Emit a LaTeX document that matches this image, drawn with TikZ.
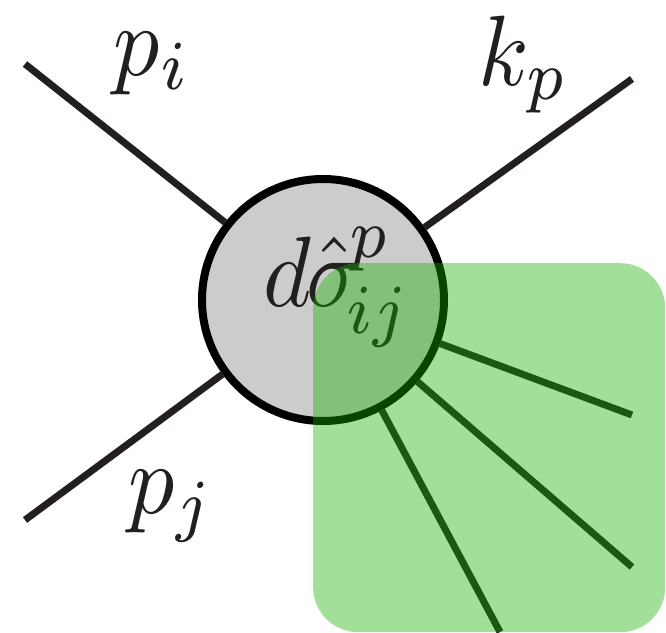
\documentclass[tikz,border=0pt]{standalone}
\usepackage{amsmath}
\usetikzlibrary{positioning}
\definecolor{legcol}{RGB}{35,31,32}
\definecolor{radgreen}{RGB}{22,175,0}
\tikzset{
    blob/.style = {circle, draw=black, fill=black!20, line width=8pt, minimum size=242pt, inner sep=0pt},
    legline/.style = {draw=legcol, line width=7pt},
    leglabel/.style = {text=legcol, inner sep=0pt, anchor=base west, font=\normalsize, xscale=9.2, yscale=10},
    radiation/.style = {rectangle, fill=radgreen, fill opacity=0.4, rounded corners=45pt, inner sep=0pt, anchor=north west}
}

\begin{document}
\begin{tikzpicture}[x=1pt, y=-1pt]
        \useasboundingbox (0,0) rectangle (666,632);
        % Nodes
        \node [blob] (xsec) at (323,300) {};
        \node [leglabel] (dsig) at (262,306) {$d\mkern-1mu\hat{\sigma}^{\mkern-3mu p}_{\mkern-3mu ij}$};
        \node [leglabel] (pi) at (112,75) {$p_i$};
        \node [leglabel] (kp) at (477,85) {$k_p$};
        \node [leglabel] (pj) at (127,513) {$p_j$};

        % Free ends of the legs
        \coordinate (inA) at (25,64);
        \coordinate (inB) at (25,520);
        \coordinate (outK) at (632,79);
        \coordinate (rad1) at (632,415);
        \coordinate (rad2) at (632,567);
        \coordinate (rad3) at (500,632);

        % Edges
        \path [legline] (inA) -- (xsec);
        \path [legline] (inB) -- (xsec);
        \path [legline] (outK) -- (xsec);
        \path [legline] (rad1) -- (xsec);
        \path [legline] (rad2) -- (xsec);
        \path [legline] (rad3) -- (xsec);

        % Radiation
        \node [radiation, minimum width=352pt, minimum height=369pt] (shower) at (313,263) {};
    \end{tikzpicture}
\end{document}
